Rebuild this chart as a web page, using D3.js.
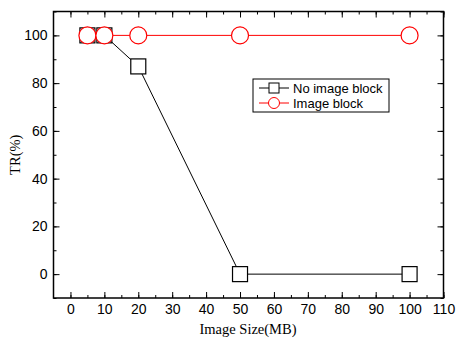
<!DOCTYPE html>
<html>
<head>
<meta charset="utf-8">
<script src="https://cdn.jsdelivr.net/npm/d3@7"></script>
<style>
  body { margin: 0; background: #fff; }
  svg { display: block; }
</style>
</head>
<body>
<script>
// data
const sizes = [5, 10, 20, 50, 100];
const noBlock = [100, 100, 87, 0, 0];
const withBlock = [100, 100, 100, 100, 100];
const xTicks = [0, 10, 20, 30, 40, 50, 60, 70, 80, 90, 100, 110];
const yTicks = [0, 20, 40, 60, 80, 100];

const width = 461, height = 339;
const m = { left: 53.5, top: 11.5, right: 443.5, bottom: 298 };

const svg = d3.select('body').append('svg')
  .attr('width', width)
  .attr('height', height);

const x = d3.scaleLinear().domain([-5, 110]).range([m.left, m.right]);
const y = d3.scaleLinear().domain([-10, 110]).range([m.bottom, m.top]);

const tickFont = '"Liberation Sans", Arial, sans-serif';
const titleFont = '"Liberation Serif", "Times New Roman", serif';

// ticks on all four sides, pointing inward
const xMinor = d3.range(0, 111, 5);
const yMinor = d3.range(-10, 111, 10);

function styleAxis(g) {
  g.select('.domain').remove();
  g.selectAll('line').attr('stroke', '#000').attr('stroke-width', 1);
  g.selectAll('text').attr('font-family', tickFont).attr('font-size', 14).attr('fill', '#000');
}

svg.append('g').attr('transform', `translate(0,${m.bottom})`)
  .call(d3.axisBottom(x).tickValues(xMinor).tickSize(-3).tickFormat(''))
  .call(styleAxis);
svg.append('g').attr('transform', `translate(0,${m.bottom})`)
  .call(d3.axisBottom(x).tickValues(xTicks).tickSize(-6).tickPadding(6).tickFormat(d3.format('d')))
  .call(styleAxis);
svg.append('g').attr('transform', `translate(0,${m.top})`)
  .call(d3.axisTop(x).tickValues(xMinor).tickSize(-3).tickFormat(''))
  .call(styleAxis);
svg.append('g').attr('transform', `translate(0,${m.top})`)
  .call(d3.axisTop(x).tickValues(xTicks).tickSize(-6).tickFormat(''))
  .call(styleAxis);

svg.append('g').attr('transform', `translate(${m.left},0)`)
  .call(d3.axisLeft(y).tickValues(yMinor).tickSize(-3).tickFormat(''))
  .call(styleAxis);
svg.append('g').attr('transform', `translate(${m.left},0)`)
  .call(d3.axisLeft(y).tickValues(yTicks).tickSize(-6).tickPadding(6).tickFormat(d3.format('d')))
  .call(styleAxis);
svg.append('g').attr('transform', `translate(${m.right},0)`)
  .call(d3.axisRight(y).tickValues(yMinor).tickSize(-3).tickFormat(''))
  .call(styleAxis);
svg.append('g').attr('transform', `translate(${m.right},0)`)
  .call(d3.axisRight(y).tickValues(yTicks).tickSize(-6).tickFormat(''))
  .call(styleAxis);

// frame
svg.append('rect')
  .attr('x', m.left).attr('y', m.top)
  .attr('width', m.right - m.left).attr('height', m.bottom - m.top)
  .attr('fill', 'none').attr('stroke', '#000').attr('stroke-width', 1.5);

// axis titles
svg.append('text')
  .attr('x', 248).attr('y', 334)
  .attr('text-anchor', 'middle')
  .attr('font-family', titleFont).attr('font-size', 14.5)
  .text('Image Size(MB)');
svg.append('text')
  .attr('transform', `translate(20,${(m.top + m.bottom) / 2}) rotate(-90)`)
  .attr('text-anchor', 'middle')
  .attr('font-family', titleFont).attr('font-size', 14.5)
  .text('TR(%)');

const line = d3.line().x(d => x(d[0])).y(d => y(d[1]));
const sq = 15, rad = 8.5;

// No image block (black squares)
const ptsA = sizes.map((s, i) => [s, noBlock[i]]);
svg.append('path').datum(ptsA)
  .attr('d', line).attr('fill', 'none').attr('stroke', '#000').attr('stroke-width', 1);
svg.append('g').selectAll('rect').data(ptsA).join('rect')
  .attr('x', d => x(d[0]) - sq / 2).attr('y', d => y(d[1]) - sq / 2)
  .attr('width', sq).attr('height', sq)
  .attr('fill', '#fff').attr('stroke', '#000').attr('stroke-width', 1.2);

// Image block (red circles)
const ptsB = sizes.map((s, i) => [s, withBlock[i]]);
svg.append('path').datum(ptsB)
  .attr('d', line).attr('fill', 'none').attr('stroke', '#ff0000').attr('stroke-width', 1);
svg.append('g').selectAll('circle').data(ptsB).join('circle')
  .attr('cx', d => x(d[0])).attr('cy', d => y(d[1])).attr('r', rad)
  .attr('fill', '#fff').attr('stroke', '#ff0000').attr('stroke-width', 1.2);

// legend
const lg = svg.append('g').attr('transform', 'translate(253,79)');
lg.append('rect').attr('width', 136).attr('height', 33)
  .attr('fill', '#fff').attr('stroke', '#000').attr('stroke-width', 1);
const entries = [
  { label: 'No image block', color: '#000', shape: 'square' },
  { label: 'Image block', color: '#ff0000', shape: 'circle' }
];
entries.forEach((e, i) => {
  const cy = 9 + i * 15;
  lg.append('line').attr('x1', 6).attr('x2', 36).attr('y1', cy).attr('y2', cy)
    .attr('stroke', e.color).attr('stroke-width', 1);
  if (e.shape === 'square') {
    lg.append('rect').attr('x', 21 - 5).attr('y', cy - 5).attr('width', 10).attr('height', 10)
      .attr('fill', '#fff').attr('stroke', e.color).attr('stroke-width', 1);
  } else {
    lg.append('circle').attr('cx', 21).attr('cy', cy).attr('r', 5.5)
      .attr('fill', '#fff').attr('stroke', e.color).attr('stroke-width', 1);
  }
  lg.append('text').attr('x', 40).attr('y', cy + 4.5)
    .attr('font-family', tickFont).attr('font-size', 13)
    .text(e.label);
});
</script>
</body>
</html>
